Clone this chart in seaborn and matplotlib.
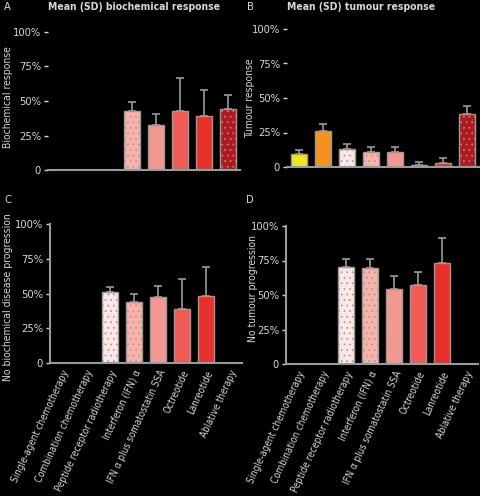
import numpy as np
import pandas as pd
import matplotlib
matplotlib.use('Agg')
import matplotlib.pyplot as plt
import seaborn as sns

# categories
treatments = ['Single-agent chemotherapy', 'Combination chemotherapy',
              'Peptide receptor radiotherapy', 'Interferon (IFN) α',
              'IFN α plus somatostatin SSA', 'Octreotide', 'Lanreotide',
              'Ablative therapy']
colors = ['#f2e41e', '#f3921f', '#fde6e6', '#f8b2aa', '#f19893',
          '#f15b56', '#e8312a', '#b1191d']
dotted = ['Peptide receptor radiotherapy', 'Interferon (IFN) α', 'Ablative therapy']

# A: biochemical response
a_treat = ['Interferon (IFN) α', 'IFN α plus somatostatin SSA', 'Octreotide',
           'Lanreotide', 'Ablative therapy']
a_mean = [43, 32.5, 43, 39, 44]
a_sd = [6, 8, 24, 19, 10]

# B: tumour response
b_treat = treatments
b_mean = [9.4, 25.8, 12.8, 10.6, 10.9, 1.4, 2.7, 38.4]
b_sd = [2.6, 5.2, 3.6, 3.9, 3.4, 2.0, 3.6, 5.6]

# C: no biochemical disease progression
c_treat = ['Peptide receptor radiotherapy', 'Interferon (IFN) α',
           'IFN α plus somatostatin SSA', 'Octreotide', 'Lanreotide']
c_mean = [50.8, 44, 47.7, 38.8, 48]
c_sd = [4.2, 5.4, 7.7, 21.9, 21.3]

# D: no tumour progression
d_treat = c_treat
d_mean = [70.6, 69.4, 54.7, 57.6, 73.5]
d_sd = [5.8, 7.0, 9.2, 9.4, 17.8]

W, H = 480, 496

# letter, treatments, means, sds, ylabel, title, axes box (px: left, top, bottom),
# ylabel (right edge x, centre y), letter pos, bottom row
panels = [
    ('A', a_treat, a_mean, a_sd, 'Biochemical response', 'Mean (SD) biochemical response',
     (48, 32, 170), (13, 97), (7, 7), False),
    ('B', b_treat, b_mean, b_sd, 'Tumour response', 'Mean (SD) tumour response',
     (287, 29, 167), (255, 98), (250, 7), False),
    ('C', c_treat, c_mean, c_sd, 'No biochemical disease progression', None,
     (50, 224, 363), (13, 297), (8, 200), True),
    ('D', d_treat, d_mean, d_sd, 'No tumour progression', None,
     (286, 226, 364), (258, 288), (250, 200), True),
]

sns.set_style('dark')
plt.rcParams['font.family'] = ['DejaVu Sans']
plt.rcParams['font.stretch'] = 'condensed'
plt.rcParams['hatch.linewidth'] = 0.5
txt = '#d8d8d8'
line = '#9a9a9a'
palette = dict(zip(treatments, colors))

fig = plt.figure(figsize=(W / 100, H / 100), dpi=100, facecolor='black')

for letter, treat, mean, sd, ylab, title, box, ylpos, lpos, bottom_row in panels:
    left, top, bottom = box
    ax = fig.add_axes([left / W, 1 - bottom / H, 192 / W, (bottom - top) / H])
    ax.set_facecolor('black')
    df = pd.DataFrame({'treatment': treat, 'value': mean})
    sns.barplot(data=df, x='treatment', y='value', hue='treatment', order=treatments,
                hue_order=treatments, palette=palette, legend=False, width=0.66,
                saturation=1, edgecolor=line, linewidth=1.0, ax=ax)
    for bar in ax.patches:
        bar.set_zorder(2)
        idx = int(round(bar.get_x() + bar.get_width() / 2))
        if 0 <= idx < len(treatments) and treatments[idx] in dotted and bar.get_height() > 0:
            bar.set_hatch('...')
    xs = [treatments.index(t) for t in treat]
    ax.errorbar(xs, mean, yerr=[np.zeros(len(sd)), sd], fmt='none', ecolor=line,
                elinewidth=1.2, capsize=3, capthick=1.2, zorder=1)
    ax.set_ylim(0, 100)
    ax.set_xlim(-0.5, 7.5)
    ax.set_yticks([0, 25, 50, 75, 100])
    ax.set_yticklabels(['0', '25%', '50%', '75%', '100%'], color=txt, fontsize=8)
    ax.tick_params(axis='y', length=3, width=1, color=txt, pad=2, left=True)
    ax.grid(False)
    for side in ['top', 'right']:
        ax.spines[side].set_visible(False)
    ax.spines['bottom'].set_color(line)
    ax.spines['bottom'].set_linewidth(1.5)
    ax.spines['left'].set_visible(bottom_row)
    ax.spines['left'].set_color(line)
    ax.spines['left'].set_linewidth(1.5)
    ax.set_xlabel('')
    ax.set_ylabel(ylab, color=txt, fontsize=7.5)
    ax.yaxis.set_label_coords((ylpos[0] - left) / 192, (bottom - ylpos[1]) / (bottom - top))
    if bottom_row:
        ax.set_xticks(range(len(treatments)))
        ax.set_xticklabels(treatments, rotation=65, ha='right', rotation_mode='anchor',
                           color=txt, fontsize=7)
        ax.tick_params(axis='x', length=0, pad=4)
    else:
        ax.set_xticks([])
    if title:
        fig.text(left / W, 1 - 7 / H, title, color=txt, fontsize=7.5,
                 fontweight='bold', ha='left', va='center')
    fig.text(lpos[0] / W, 1 - lpos[1] / H, letter, color=txt, fontsize=8,
             ha='center', va='center')

fig.savefig('out.png', dpi=100, facecolor='black')
